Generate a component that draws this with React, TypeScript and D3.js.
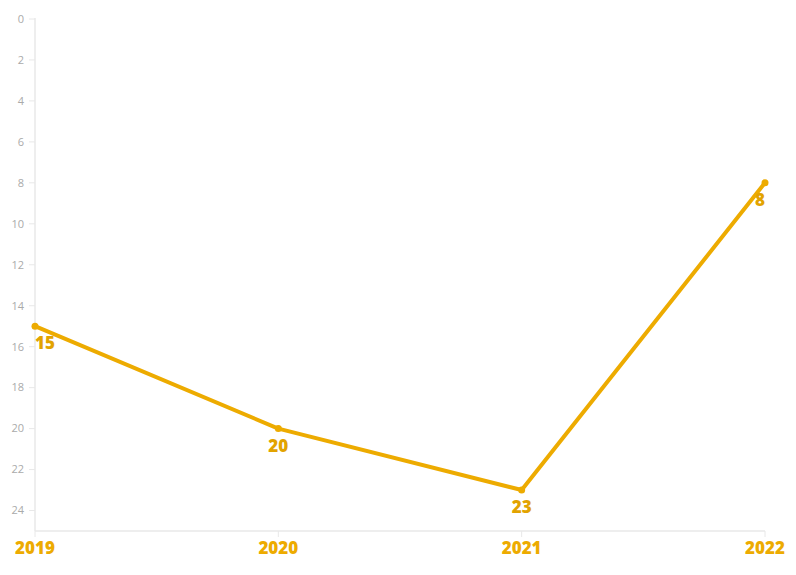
import React from "react";
import * as d3 from "d3";

const years = ["2019", "2020", "2021", "2022"];
const values = [15, 20, 23, 8];
const yTicks = [0, 2, 4, 6, 8, 10, 12, 14, 16, 18, 20, 22, 24];

const W = 796, H = 575;
const M = { left: 35, right: 31, top: 19, bottom: 44 };
const LINE = "#EDAB00";
const LABEL = "#E2A300";

export default function App() {
  const x = d3.scalePoint<string>().domain(years).range([M.left, W - M.right]);
  const y = d3.scaleLinear().domain([0, 25]).range([M.top, H - M.bottom]);
  const line = d3.line<number>().x((_, i) => x(years[i])!).y((d) => y(d));
  const bottom = y(25);
  return (
    <svg width={W} height={H} style={{ position: "absolute", left: 0, top: 0, fontFamily: "'Open Sans', sans-serif" }}>
      <line x1={M.left} x2={M.left} y1={y(0) - 1} y2={bottom} stroke="#e8e8e8" strokeWidth={1.5} />
      {yTicks.map((t) => (
        <g key={t}>
          <line x1={M.left - 6} x2={M.left} y1={y(t)} y2={y(t)} stroke="#e8e8e8" strokeWidth={1} />
          <text x={M.left - 11} y={y(t)} dy="0.35em" textAnchor="end" fontSize={11} fill="#aaaaaa">{t}</text>
        </g>
      ))}
      <line x1={M.left} x2={W - M.right} y1={bottom} y2={bottom} stroke="#e8e8e8" strokeWidth={1.5} />
      {years.map((yr) => (
        <g key={yr}>
          <line x1={x(yr)} x2={x(yr)} y1={bottom} y2={bottom + 6} stroke="#e8e8e8" strokeWidth={1} />
          <text x={x(yr)} y={bottom + 23} textAnchor="middle" fontSize={17} fontWeight={800} fill={LINE}>{yr}</text>
        </g>
      ))}
      <path d={line(values) || ""} fill="none" stroke={LINE} strokeWidth={4} strokeLinejoin="round" />
      {values.map((v, i) => {
        const px = x(years[i])!;
        const py = y(v);
        let anchor: "start" | "middle" | "end" = "middle";
        if (i === 0) anchor = "start";
        if (i === values.length - 1) anchor = "end";
        return (
          <g key={i}>
            <circle cx={px} cy={py} r={3.5} fill={LINE} />
            <text x={px} y={py + 23} textAnchor={anchor} fontSize={17} fontWeight={800} fill={LABEL}>{v}</text>
          </g>
        );
      })}
    </svg>
  );
}
